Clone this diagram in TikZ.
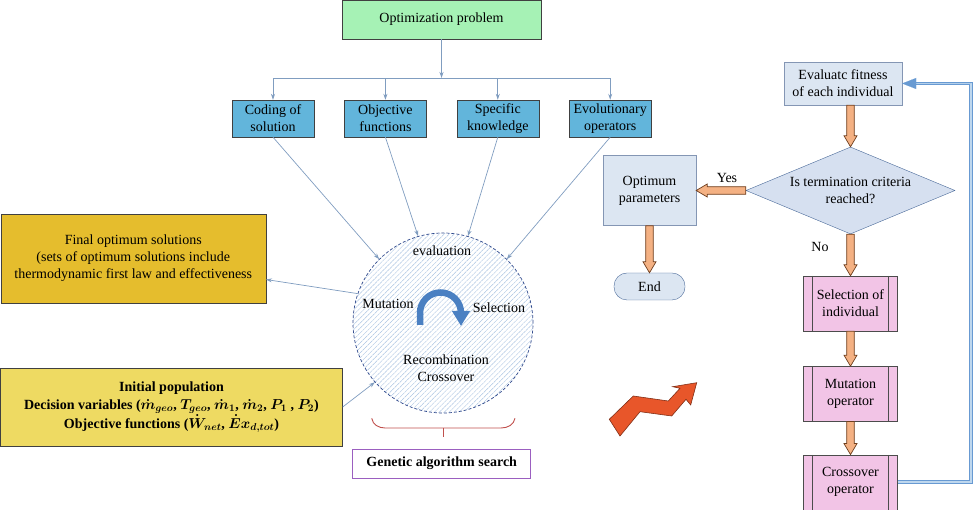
\documentclass[tikz,border=0pt]{standalone}
\usepackage{fontspec}
\setmainfont{LiberationSerif}[Extension=.ttf, UprightFont=*-Regular, BoldFont=*-Bold, ItalicFont=*-Italic, BoldItalicFont=*-BoldItalic]
\usepackage{amsmath}
\usepackage{amssymb}
\usepackage{xcolor}
\usetikzlibrary{positioning,shapes.geometric,arrows.meta,patterns.meta,calc}

\definecolor{optgreen}{RGB}{166,242,181}
\definecolor{boxblue}{RGB}{98,181,219}
\definecolor{treeline}{RGB}{128,157,192}
\definecolor{finalgold}{RGB}{229,189,45}
\definecolor{initgold}{RGB}{238,218,98}
\definecolor{paleblue}{RGB}{220,230,242}
\definecolor{paleedge}{RGB}{132,150,180}
\definecolor{diamblue}{RGB}{214,224,240}
\definecolor{diamedge}{RGB}{72,104,152}
\definecolor{procpink}{RGB}{242,196,230}
\definecolor{fatorange}{RGB}{244,177,131}
\definecolor{fatedge}{RGB}{110,62,30}
\definecolor{zigred}{RGB}{232,86,42}
\definecolor{loopblue}{RGB}{104,154,210}
\definecolor{looplight}{RGB}{190,215,238}
\definecolor{turnblue}{RGB}{74,128,194}
\definecolor{hatchblue}{RGB}{170,196,226}
\definecolor{ringblue}{RGB}{46,72,140}
\definecolor{bracered}{RGB}{192,80,77}
\definecolor{gapurple}{RGB}{155,95,192}

\newcommand{\FatArrow}[2]{%
	\coordinate (fah) at ($(#2)!11pt!(#1)$);
	\draw[fatarrow] ($(#1)!3.8pt!90:(#2)$) -- ($(fah)!3.8pt!90:(#2)$) -- ($(fah)!6.5pt!90:(#2)$) -- (#2) -- ($(fah)!6.5pt!-90:(#2)$) -- ($(fah)!3.8pt!-90:(#2)$) -- ($(#1)!3.8pt!-90:(#2)$) -- cycle;}

\begin{document}
\begin{tikzpicture}[x=1pt,y=1pt]
		\useasboundingbox (0,0) rectangle (974,510);
		\tikzset{every node/.style={font=\fontsize{14}{17}\selectfont, align=center},
			topbox/.style={draw=black!75, fill=optgreen, minimum width=199pt, minimum height=39pt},
			keybox/.style={draw=black!75, fill=boxblue, minimum width=82pt, minimum height=37pt, inner sep=2pt},
			tree/.style={draw=treeline, line width=0.8pt, -{Stealth[length=6pt,width=4pt]}},
			feed/.style={draw=treeline, line width=0.7pt, -{Stealth[length=6pt,width=4pt]}},
			ring/.style={circle, minimum size=180pt, draw=ringblue, densely dashed, line width=0.7pt, preaction={fill=white}, pattern={Lines[angle=45,distance=3.5pt,line width=0.45pt]}, pattern color=hatchblue},
			turn/.style={draw=turnblue, line width=6.5pt, -{Triangle[length=15pt,width=17pt]}},
			finbox/.style={draw=black!75, fill=finalgold, minimum width=265pt, minimum height=89pt},
			inibox/.style={draw=black!75, fill=initgold, minimum width=342pt, minimum height=78pt, font=\fontsize{14}{18.5}\selectfont\bfseries\boldmath},
			brace/.style={draw=bracered, line width=0.9pt},
			gabox/.style={draw=gapurple, fill=white, line width=0.9pt, minimum width=178pt, minimum height=29pt, font=\fontsize{14}{17}\selectfont\bfseries},
			node distance=30pt}
		\node[topbox] (opt) at (441.5,490.5) {Optimization problem};
		\coordinate (bus) at (441.5,432);
		\node[keybox] (cod) at (273,391.5) {Coding of\\solution};
		\node[keybox, right=of cod] (obj) {Objective\\functions};
		\node[keybox, right=of obj] (spk) {Specific\\knowledge};
		\node[keybox, right=of spk] (evo) {Evolutionary\\operators};
		\draw[tree] (opt) -- (bus);
		\foreach \b in {cod,obj,spk,evo}
			\draw[tree] (bus) -| (\b);
		\node[ring] (ga) at (443,187) {};
		\node (evl) at (442,259) {evaluation};
		\node (mtn) at (388,206) {Mutation};
		\node (slc) at (499,202) {Selection};
		\node (rcb) at (446,141.5) {Recombination\\Crossover};
		\draw[turn] (420,185) -- (420,197) arc[start angle=180, end angle=0, radius=20.5] -- (461,184);
		\node[finbox] (fin) at (133.25,251.5) {Final optimum solutions\\(sets of optimum solutions include\\thermodynamic first law and effectiveness};
		\node[inibox] (ini) at (171.5,103) {Initial population\\Decision variables ($\dot{m}_{geo}$, $T_{geo}$, $\dot{m}_1$, $\dot{m}_2$, $P_1$ , $P_2$)\\Objective functions ($\dot{W}_{net}$, $\dot{E}x_{d,tot}$)};
		\draw[feed] (cod.south) -- (ga.135);
		\draw[feed] (obj.south) -- (ga.106);
		\draw[feed] (spk.south) -- (ga.74);
		\draw[feed] (evo.south) -- (ga.45);
		\draw[feed] (ga.161) -- (fin.-9.6);
		\draw[feed] (ini.east) -- (ga.221);
		\draw[brace] (371.7,91.7) to[out=-80,in=180] (385,82) -- (501,82) to[out=0,in=-100] (515,91.7);
		\draw[brace] (443,82) -- (443,73.3);
		\node[gabox] (gas) at (441.7,46.5) {Genetic algorithm search};
		\filldraw[fill=zigred, draw=zigred!55!black, line width=0.6pt] (609.3,90.7) -- (633.3,114) -- (668.3,109) -- (680,121.7) -- (672.7,123.3) -- (696.7,127.3) -- (690.7,105) -- (686,110.7) -- (671.7,94) -- (640,98.3) -- (620,74) -- cycle;
		\tikzset{pale/.style={draw=paleedge, fill=paleblue, inner sep=3pt},
			decide/.style={diamond, aspect=2.4, draw=diamedge, fill=diamblue, minimum width=209pt, minimum height=87pt, inner sep=0pt},
			stopbox/.style={rectangle, rounded corners=13pt, draw=diamedge, fill=paleblue, minimum width=71pt, minimum height=27pt},
			proc/.style={draw=black!70, fill=procpink, minimum width=94pt, minimum height=55pt, inner sep=2pt,
				path picture={\draw[black!70] ([xshift=9pt]path picture bounding box.north west) -- ([xshift=9pt]path picture bounding box.south west) ([xshift=-9pt]path picture bounding box.north east) -- ([xshift=-9pt]path picture bounding box.south east);}},
			fatarrow/.style={fill=fatorange, draw=fatedge, line width=0.7pt, line join=miter},
			backline/.style={draw=loopblue, double=looplight, double distance=1.6pt, line width=1pt, shorten >=13pt},
			backtip/.style={draw=loopblue, line width=0.01pt, -{Triangle[length=14pt,width=11pt,fill=loopblue]}}}
		\node[pale, minimum width=118pt, minimum height=43pt] (eva) at (843,426.5) {Evaluatc fitness\\of each individual};
		\node[decide] (term) at (850.5,319.5) {Is termination criteria\\reached?};
		\node[pale, minimum width=93pt, minimum height=70pt] (optp) at (649.5,319.5) {Optimum\\parameters};
		\node[stopbox] (endn) at (649.5,223.5) {End};
		\node[proc] (sel) at (850.5,206.5) {Selection of\\individual};
		\node[proc, below=35pt of sel] (mtop) {Mutation\\operator};
		\node[proc, below=33pt of mtop] (crop) {Crossover\\operator};
		\coordinate (evab) at (term.north |- eva.south);
		\FatArrow{evab}{term.north}
		\FatArrow{term.west}{optp.east}
		\FatArrow{optp.south}{endn.north}
		\FatArrow{term.south}{sel.north}
		\FatArrow{sel.south}{mtop.north}
		\FatArrow{mtop.south}{crop.north}
		\node (yes) at (727,332) {Yes};
		\node (no) at (820,263) {No};
		\coordinate (fbk) at ($(eva.east)+(69,0)$);
		\draw[backline] (crop.east) -| (fbk) -- (eva.east);
		\draw[backtip] (fbk) -- (eva.east);
		\end{tikzpicture}
\end{document}
